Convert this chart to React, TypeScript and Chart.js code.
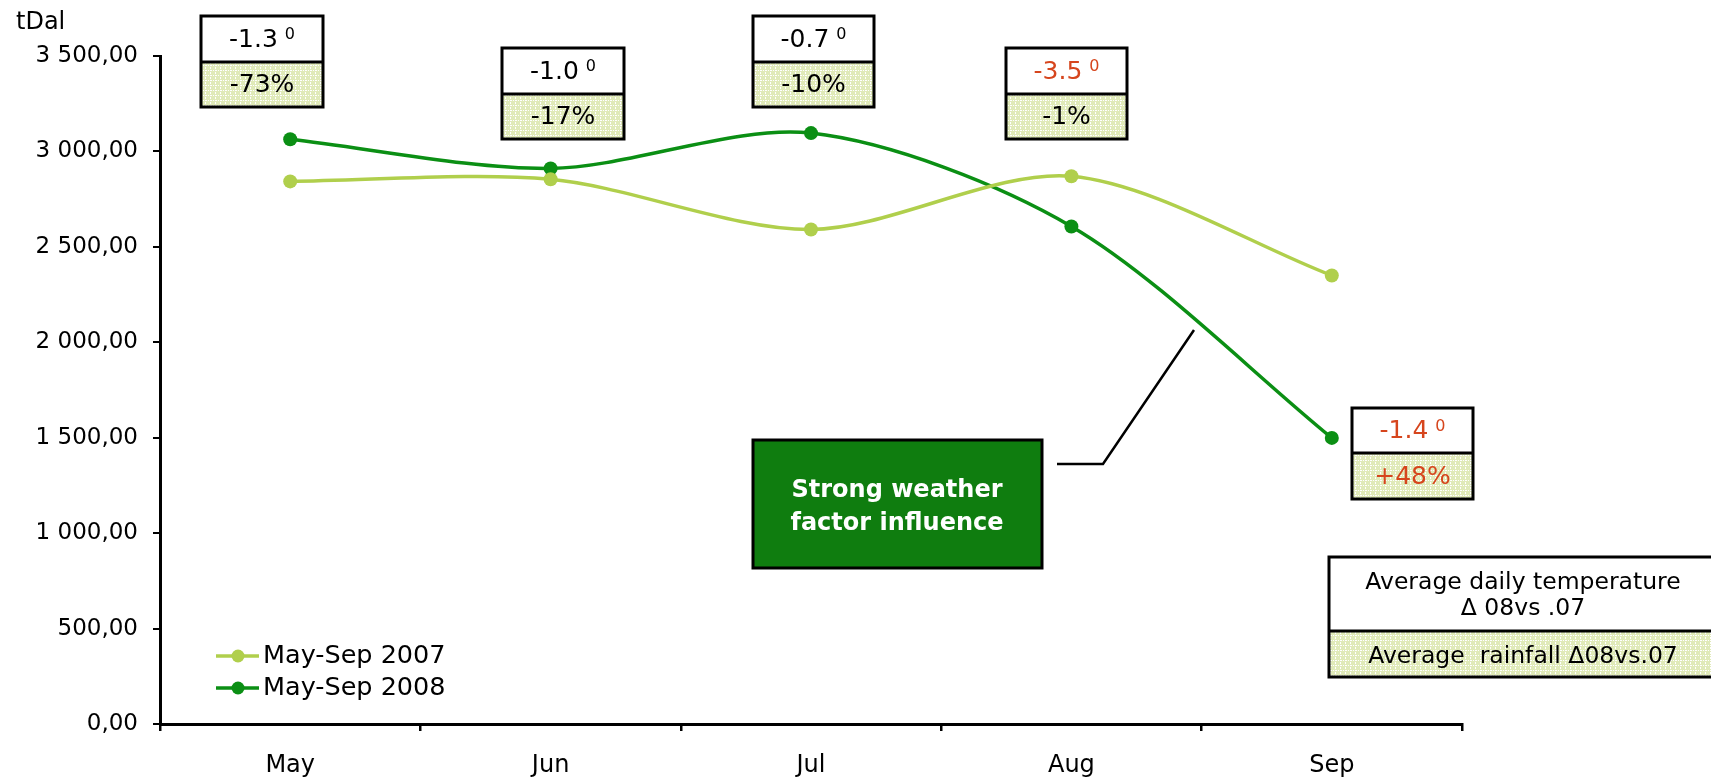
import React, { useEffect, useRef } from "react";
import { Chart, registerables } from "chart.js";

Chart.register(...registerables);

// ---- data ----
const MONTHS = ["May", "Jun", "Jul", "Aug", "Sep"];
const SERIES_LABELS = ["May-Sep 2007", "May-Sep 2008"];
const SALES_2007 = [2843, 2854, 2591, 2870, 2350];
const SALES_2008 = [3064, 2911, 3096, 2607, 1499];
const Y_MIN = 0;
const Y_MAX = 3500;
const Y_STEP = 500;
const UNIT_LABEL = "tDal";
const TEMP_DELTA = ["-1.3", "-1.0", "-0.7", "-3.5", "-1.4"];
const RAIN_DELTA = ["-73%", "-17%", "-10%", "-1%", "+48%"];
const CALLOUT_LINES = ["Strong weather", "factor influence"];
const KEY_TEMP_LINES = ["Average daily temperature", "Δ 08vs .07"];
const KEY_RAIN_LINE = "Average  rainfall Δ08vs.07";

// ---- styling / layout (not data) ----
const FONT = '"DejaVu Sans", Verdana, sans-serif';
const C2007 = "#b0cf4c";
const C2008 = "#0b8f14";
const RED = "#d6451d";
const TEMP_RED_IDX = [3, 4];
const RAIN_RED_IDX = [4];
const BOXES = [
  { x: 201, y: 16, w: 122, h: 91, top: 46 },
  { x: 502, y: 48, w: 122, h: 91, top: 46 },
  { x: 753, y: 16, w: 121, h: 91, top: 46 },
  { x: 1006, y: 48, w: 121, h: 91, top: 46 },
  { x: 1352, y: 408, w: 121, h: 91, top: 45 },
];

function formatTick(v: number): string {
  const s = Math.round(v)
    .toString()
    .replace(/\B(?=(\d{3})+(?!\d))/g, " ");
  return s + ",00";
}

function makePattern(ctx: CanvasRenderingContext2D): CanvasPattern | string {
  const c = document.createElement("canvas");
  c.width = 5;
  c.height = 5;
  const g = c.getContext("2d");
  if (!g) return "#e6eec8";
  g.fillStyle = "#e0eab9";
  g.fillRect(0, 0, 5, 5);
  g.fillStyle = "#ffffff";
  g.fillRect(0, 0, 2, 1);
  g.fillRect(3, 0, 1, 1);
  g.fillRect(0, 2, 1, 2);
  return ctx.createPattern(c, "repeat") || "#e6eec8";
}

const annotations = {
  id: "annotations",
  afterDraw(chart: any) {
    const ctx: CanvasRenderingContext2D = chart.ctx;
    const pattern = makePattern(ctx);
    ctx.save();

    // unit label
    ctx.fillStyle = "#000";
    ctx.font = `24px ${FONT}`;
    ctx.textAlign = "left";
    ctx.textBaseline = "middle";
    ctx.fillText(UNIT_LABEL, 16, 23);

    // delta boxes
    BOXES.forEach((b, i) => {
      const mid = b.y + b.top;
      ctx.fillStyle = "#ffffff";
      ctx.fillRect(b.x, b.y, b.w, b.top);
      ctx.fillStyle = pattern as any;
      ctx.fillRect(b.x, mid, b.w, b.h - b.top);
      ctx.strokeStyle = "#000";
      ctx.lineWidth = 3;
      ctx.strokeRect(b.x, b.y, b.w, b.h);
      ctx.beginPath();
      ctx.moveTo(b.x, mid);
      ctx.lineTo(b.x + b.w, mid);
      ctx.stroke();

      const cx = b.x + b.w / 2;
      const tColor = TEMP_RED_IDX.includes(i) ? RED : "#000";
      const rColor = RAIN_RED_IDX.includes(i) ? RED : "#000";
      ctx.font = `25px ${FONT}`;
      const w1 = ctx.measureText(TEMP_DELTA[i]).width;
      ctx.font = `16px ${FONT}`;
      const w2 = ctx.measureText("0").width;
      const gap = 7;
      const start = cx - (w1 + gap + w2) / 2;
      const ty = b.y + b.top / 2 + 1;
      ctx.fillStyle = tColor;
      ctx.textAlign = "left";
      ctx.textBaseline = "middle";
      ctx.font = `25px ${FONT}`;
      ctx.fillText(TEMP_DELTA[i], start, ty);
      ctx.font = `16px ${FONT}`;
      ctx.fillText("0", start + w1 + gap, ty - 5);

      ctx.fillStyle = rColor;
      ctx.font = `25px ${FONT}`;
      ctx.textAlign = "center";
      ctx.fillText(RAIN_DELTA[i], cx, mid + (b.h - b.top) / 2 + 1);
    });

    // callout connector
    ctx.strokeStyle = "#000";
    ctx.lineWidth = 2.5;
    ctx.beginPath();
    ctx.moveTo(1057, 464);
    ctx.lineTo(1103, 464);
    ctx.lineTo(1194, 330);
    ctx.stroke();

    // callout box
    ctx.fillStyle = "#0f7d0f";
    ctx.fillRect(753, 440, 289, 128);
    ctx.strokeStyle = "#000";
    ctx.lineWidth = 3;
    ctx.strokeRect(753, 440, 289, 128);
    ctx.fillStyle = "#ffffff";
    ctx.font = `bold 24px ${FONT}`;
    ctx.textAlign = "center";
    ctx.textBaseline = "middle";
    ctx.fillText(CALLOUT_LINES[0], 897, 491);
    ctx.fillText(CALLOUT_LINES[1], 897, 524);

    // key box
    const kx = 1329, ky = 557, kw = 390, kh = 120, kTop = 74;
    ctx.fillStyle = "#ffffff";
    ctx.fillRect(kx, ky, kw, kTop);
    ctx.fillStyle = pattern as any;
    ctx.fillRect(kx, ky + kTop, kw, kh - kTop);
    ctx.strokeStyle = "#000";
    ctx.lineWidth = 3;
    ctx.strokeRect(kx, ky, kw, kh);
    ctx.beginPath();
    ctx.moveTo(kx, ky + kTop);
    ctx.lineTo(kx + kw, ky + kTop);
    ctx.stroke();
    ctx.fillStyle = "#000";
    ctx.font = `23.5px ${FONT}`;
    ctx.textAlign = "center";
    ctx.fillText(KEY_TEMP_LINES[0], 1523, 583);
    ctx.fillText(KEY_TEMP_LINES[1], 1523, 609);
    ctx.fillText(KEY_RAIN_LINE, 1523, 657);

    // legend
    const colors = [C2007, C2008];
    const rows = [656, 688];
    chart.data.datasets.forEach((ds: any, i: number) => {
      const y = rows[i];
      ctx.strokeStyle = colors[i];
      ctx.lineWidth = 3.5;
      ctx.beginPath();
      ctx.moveTo(216, y);
      ctx.lineTo(259, y);
      ctx.stroke();
      ctx.fillStyle = colors[i];
      ctx.beginPath();
      ctx.arc(238, y, 6.5, 0, Math.PI * 2);
      ctx.fill();
      ctx.fillStyle = "#000";
      ctx.font = `25.5px ${FONT}`;
      ctx.textAlign = "left";
      ctx.textBaseline = "middle";
      ctx.fillText(ds.label, 263, y);
    });

    ctx.restore();
  },
};

export default function App() {
  const ref = useRef<HTMLCanvasElement | null>(null);

  useEffect(() => {
    if (!ref.current) return;
    const chart = new Chart(ref.current, {
      type: "line",
      data: {
        labels: MONTHS,
        datasets: [
          {
            label: SERIES_LABELS[0],
            data: SALES_2007,
            borderColor: C2007,
            backgroundColor: C2007,
            pointBackgroundColor: C2007,
            pointBorderWidth: 0,
            pointRadius: 7,
            borderWidth: 3.5,
            tension: 0.3,
          },
          {
            label: SERIES_LABELS[1],
            data: SALES_2008,
            borderColor: C2008,
            backgroundColor: C2008,
            pointBackgroundColor: C2008,
            pointBorderWidth: 0,
            pointRadius: 7,
            borderWidth: 3.5,
            tension: 0.3,
          },
        ],
      },
      options: {
        responsive: false,
        animation: false,
        devicePixelRatio: 1,
        layout: { padding: { left: 0, right: 249, top: 56, bottom: 0 } },
        plugins: {
          legend: { display: false },
          tooltip: { enabled: false },
        },
        scales: {
          x: {
            type: "category",
            offset: true,
            grid: {
              offset: true,
              drawOnChartArea: false,
              drawTicks: true,
              tickLength: 7,
              color: "#000",
              lineWidth: 2.5,
            },
            border: { display: true, color: "#000", width: 3 },
            ticks: {
              color: "#000",
              font: { family: FONT, size: 24 },
              padding: 20,
              maxRotation: 0,
            },
            afterFit: (s: any) => {
              s.height = 57;
            },
          },
          y: {
            min: Y_MIN,
            max: Y_MAX,
            ticks: {
              stepSize: Y_STEP,
              callback: (v: any) => formatTick(Number(v)),
              color: "#000",
              font: { family: FONT, size: 23 },
              padding: 15,
            },
            grid: {
              drawOnChartArea: false,
              drawTicks: true,
              tickLength: 7,
              color: "#000",
              lineWidth: 2,
            },
            border: { display: true, color: "#000", width: 3 },
            afterFit: (s: any) => {
              s.width = 160;
            },
          },
        },
      },
      plugins: [annotations],
    });
    return () => chart.destroy();
  }, []);

  return (
    <div
      style={{
        position: "absolute",
        left: 0,
        top: 0,
        width: 1711,
        height: 781,
        background: "#ffffff",
        overflow: "hidden",
      }}
    >
      <canvas ref={ref} width={1711} height={781} style={{ display: "block" }} />
    </div>
  );
}
